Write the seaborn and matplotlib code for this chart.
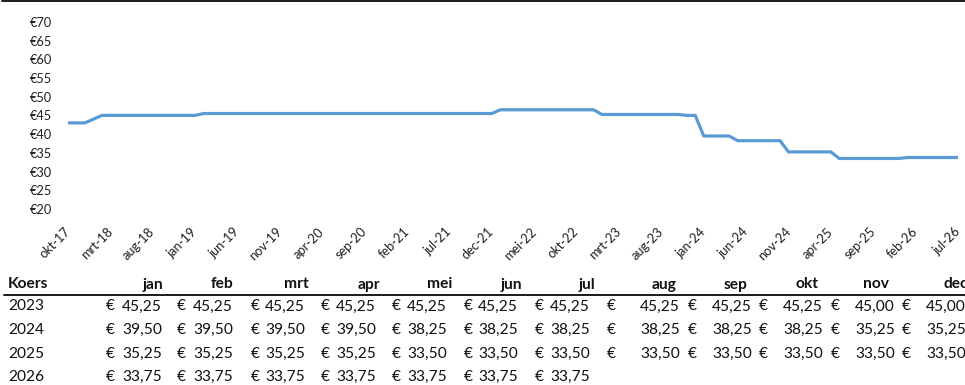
import matplotlib
matplotlib.use("Agg")
import matplotlib.pyplot as plt
import pandas as pd
import seaborn as sns
from matplotlib.lines import Line2D

# Dutch month abbreviations
maanden = ['jan', 'feb', 'mrt', 'apr', 'mei', 'jun', 'jul', 'aug', 'sep', 'okt', 'nov', 'dec']

# Monthly rate (koers) in euro, series starts in okt-2017
start_jaar = 2017
start_maand = 10
koers_2017 = [43.00, 43.00, 43.00]
koers_2018 = [44.00, 45.00, 45.00, 45.00, 45.00, 45.00, 45.00, 45.00, 45.00, 45.00, 45.00, 45.00]
koers_2019 = [45.00, 45.50, 45.50, 45.50, 45.50, 45.50, 45.50, 45.50, 45.50, 45.50, 45.50, 45.50]
koers_2020 = [45.50, 45.50, 45.50, 45.50, 45.50, 45.50, 45.50, 45.50, 45.50, 45.50, 45.50, 45.50]
koers_2021 = [45.50, 45.50, 45.50, 45.50, 45.50, 45.50, 45.50, 45.50, 45.50, 45.50, 45.50, 45.50]
koers_2022 = [46.50, 46.50, 46.50, 46.50, 46.50, 46.50, 46.50, 46.50, 46.50, 46.50, 46.50, 46.50]
koers_2023 = [45.25, 45.25, 45.25, 45.25, 45.25, 45.25, 45.25, 45.25, 45.25, 45.25, 45.00, 45.00]
koers_2024 = [39.50, 39.50, 39.50, 39.50, 38.25, 38.25, 38.25, 38.25, 38.25, 38.25, 35.25, 35.25]
koers_2025 = [35.25, 35.25, 35.25, 35.25, 33.50, 33.50, 33.50, 33.50, 33.50, 33.50, 33.50, 33.50]
koers_2026 = [33.75, 33.75, 33.75, 33.75, 33.75, 33.75, 33.75]

jaren = {2017: koers_2017, 2018: koers_2018, 2019: koers_2019, 2020: koers_2020,
         2021: koers_2021, 2022: koers_2022, 2023: koers_2023, 2024: koers_2024,
         2025: koers_2025, 2026: koers_2026}
tabel_jaren = [2023, 2024, 2025, 2026]

y_ticks = [20, 25, 30, 35, 40, 45, 50, 55, 60, 65, 70]

# ---- build long table -------------------------------------------------
rows = []
for jaar, waarden in jaren.items():
    eerste = start_maand - 1 if jaar == start_jaar else 0
    for k, v in enumerate(waarden):
        m = eerste + k
        rows.append({"periode": f"{maanden[m]}-{str(jaar)[2:]}", "koers": v})
df = pd.DataFrame(rows)
df["idx"] = range(len(df))

# ---- figure -------------------------------------------------------------
sns.set_theme(style="white")
plt.rcParams["font.family"] = ["Lato", "DejaVu Sans"]

W, H = 965, 385
fig = plt.figure(figsize=(W / 100, H / 100), dpi=100)
fig.patch.set_facecolor("white")

top_px, bot_px = 21.8, 209.0
ax = fig.add_axes([68 / W, 1 - bot_px / H, 890 / W, (bot_px - top_px) / H])
sns.lineplot(data=df, x="idx", y="koers", ax=ax, color="#5B9BD5", linewidth=2.3)

ax.set_xlim(0, len(df) - 1)
ax.set_ylim(y_ticks[0], y_ticks[-1])
ax.set_yticks(y_ticks)
ax.set_yticklabels([f"€{t}" for t in y_ticks], fontsize=9.2, color="#1f1f1f")
tick_idx = list(range(0, len(df), 5))
ax.set_xticks(tick_idx)
ax.set_xticklabels(df["periode"].iloc[tick_idx], rotation=45, ha="right",
                   va="center", rotation_mode="anchor", fontsize=9.2, color="#1f1f1f")
ax.tick_params(axis="y", length=0, pad=11.5)
ax.tick_params(axis="x", length=0, pad=15)
ax.set_xlabel("")
ax.set_ylabel("")
for s in ax.spines.values():
    s.set_visible(False)
ax.grid(False)

# top border line
fig.add_artist(Line2D([2 / W, 1], [1 - 1 / H, 1 - 1 / H], color="#1a1a1a", lw=1.4))

# ---- table below the chart ---------------------------------------------
def fy(px):
    return 1 - px / H

def fx(px):
    return px / W

fs = 11.2
kop_rechts = [163, 233, 309, 380, 452, 522, 595, 676, 747, 818, 889, 968]
euro_links = [106, 177, 251, 321, 392, 464, 535, 607, 688, 759, 831, 902]
getal_rechts = [162, 233, 305, 376, 447, 518, 590, 680, 752, 823, 895, 966]
kop_basis = 288.5
rij_basis = [310.5, 334.0, 357.5, 381.0]

fig.text(fx(8), fy(kop_basis), "Koers", fontsize=fs, fontweight="bold",
         ha="left", va="baseline", color="#111111")
for j, m in enumerate(maanden):
    fig.text(fx(kop_rechts[j]), fy(kop_basis), m, fontsize=fs, fontweight="bold",
             ha="right", va="baseline", color="#111111")
fig.add_artist(Line2D([4 / W, 1], [fy(294.6), fy(294.6)], color="#1a1a1a", lw=1.4))

for r, jaar in enumerate(tabel_jaren):
    yb = fy(rij_basis[r])
    fig.text(fx(8), yb, str(jaar), fontsize=fs, ha="left", va="baseline", color="#111111")
    for j, v in enumerate(jaren[jaar]):
        fig.text(fx(euro_links[j]), yb, "€", fontsize=fs, ha="left", va="baseline",
                 color="#111111")
        fig.text(fx(getal_rechts[j]), yb, f"{v:.2f}".replace(".", ","), fontsize=fs,
                 ha="right", va="baseline", color="#111111")

fig.savefig("out.png", dpi=100)
